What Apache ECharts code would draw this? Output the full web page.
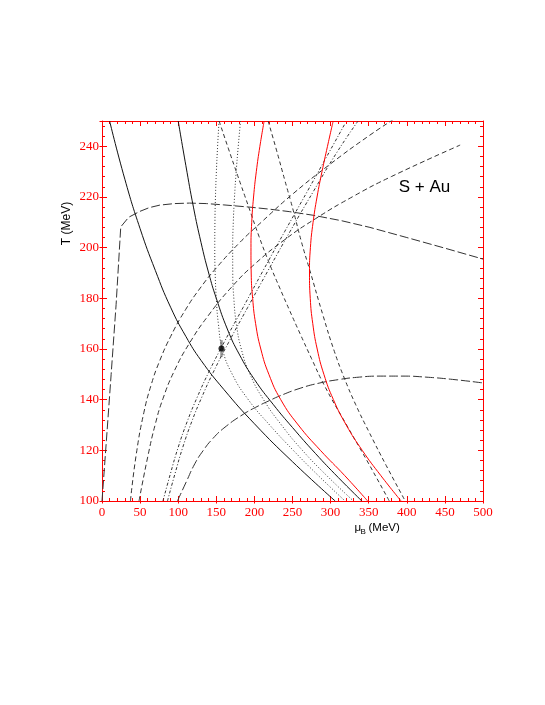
<!DOCTYPE html>
<html><head><meta charset="utf-8">
<script src="https://cdn.jsdelivr.net/npm/echarts@6/dist/echarts.min.js"></script>
<style>html,body{margin:0;padding:0;background:#fff}#c{width:545px;height:705px}</style>
</head><body><div id="c"></div>
<script>
// ---- data: [muB (MeV), T (MeV)] ----
const solidA = [[10,250],[30,227],[50,207.5],[70,191],[90,176.5],[110,165],[130,155.5],[160,144],[200,130.5],[250,115.5],[306,100]];
const solidB = [[100,250],[110,232.5],[120,216],[130,202],[140,190],[150,180],[165,167.5],[180,158],[200,148],[225,138],[250,129],[280,118.8],[310,109.3],[341,100]];
const red1 = [[212.8,250],[207.2,240],[202.5,230],[198.9,220],[196.5,210],[195.5,200],[195.8,190],[197.7,180],[201.6,170],[208.4,160],[219,150],[234.6,140],[257.6,130],[286.6,120],[318.6,110],[348.6,100]];
const red2 = [[303.4,250],[295.9,240],[288.7,230],[282.2,220],[277,210],[273.5,200],[272.3,190],[273.3,180],[276.6,170],[282.4,160],[291.2,150],[303.7,140],[320.5,130],[341.5,120],[366,110],[392.5,100]];
const dot1 = [[153.6,250],[151.7,240],[150.1,230],[148.9,220],[148.2,210],[148,200],[148.5,190],[150,180],[152.7,170],[158,160],[171,150],[192,140],[220,130],[251,120],[284,110],[319,100]];
const dot2 = [[181.8,250],[178.8,240],[176.1,230],[173.9,220],[172.3,210],[171.5,200],[171.6,190],[173,180],[176.3,170],[182.8,160],[194.3,150],[212,140],[235.5,130],[263,120],[295,110],[330,100]];
const dash1 = [[153.7,250],[166,239],[178,228.5],[192,216.5],[206,204.5],[220,193.5],[233.4,184],[246.5,175],[259.7,166.2],[275,156.2],[292,145.5],[320,130.5],[348,115.8],[377,100]];
const dash2 = [[218,250],[229,238.5],[240,226.5],[250.9,214.8],[262,202],[272.8,191],[290.3,173],[305,159],[318,148.5],[333,138],[350,127.5],[373,114],[398,100]];
const dashDot1 = [[80,100],[90,111],[100,121.2],[112,131.5],[125,141],[140,150.8],[160,162.5],[185,176.3],[211.5,191],[240,206.5],[270,222.5],[295,236],[319,249]];
const dashDot2 = [[85.9,100],[96,111],[106,121.2],[118,131.5],[131,141],[146,150.8],[166,162.5],[191,176.3],[218,191],[247,206.5],[278,222.5],[308,237.5],[336,250]];
const longDash1 = [[37.3,100],[45,118.5],[55,135],[65,146.3],[75,154.8],[90,164.9],[110,175.7],[130,184.5],[150,192],[180,201.8],[210,210.3],[250,221.1],[300,233.1],[350,244.1],[385,251.1]];
const longDash2 = [[48.6,100],[60,117.4],[70,130.4],[80,140.4],[95,151.4],[115,162.4],[140,173.4],[170,184.4],[200,193.4],[240,203.2],[280,211.4],[330,220.3],[380,228.1],[470,240.5]];
const domeUpper = [[0,100],[5.8,124],[12,150],[18.5,177.5],[24.6,208.2],[35,212],[49.5,214.3],[62,215.8],[75.9,216.8],[95,217.4],[115,217.6],[137,217.4],[159,216.9],[194,216],[220,215.2],[246.5,214.2],[277,212.8],[315,210.6],[351.6,208],[400,204],[450,199.8],[500,195.5]];
const domeLower = [[99,100],[110.5,107.5],[121.8,114.7],[133,120],[145,124.5],[160,128.8],[185.2,134.2],[205,137.5],[220.2,139.7],[233.4,141.5],[260,144.5],[286,146.6],[310,147.9],[334,148.8],[365,149.3],[395,149.3],[425,148.9],[460,148],[500,146.6]];
const point = [[156.8,160.2]];
const pointErr = [[156.8,156.9,163.5]];
const xTickLabels = [0,50,100,150,200,250,300,350,400,450,500];
const yTickLabels = [100,120,140,160,180,200,220,240];

const chart = echarts.init(document.getElementById('c'), null, {renderer:'canvas'});
const RED = '#ff0000';
function ln(data, color, type, smooth){
  return {type:'line', data:data, xAxisIndex:0, yAxisIndex:0, symbol:'none', showSymbol:false,
    smooth:smooth, silent:true, clip:true,
    lineStyle:{color:color, width:1, type:type}};
}
function vAxis(pos, interval, opts){
  return Object.assign({type:'value', min:100, max:250, interval:interval, position:pos,
    axisLine:{show:false}, splitLine:{show:false}, axisLabel:{show:false},
    axisTick:{show:true, inside:true, length:3, lineStyle:{color:RED, width:1}}}, opts||{});
}
function hAxis(pos, opts){
  return Object.assign({type:'value', min:0, max:500, interval:50, position:pos,
    axisLine:{show:false}, splitLine:{show:false}, axisLabel:{show:false},
    axisTick:{show:true, inside:true, length:5, lineStyle:{color:RED, width:1}}}, opts||{});
}
const labelFont = {color:RED, fontFamily:'Liberation Serif', fontSize:13};
const SM = 0.5;
const option = {
  animation:false,
  backgroundColor:'#fff',
  grid:{left:102, top:121, width:381, height:380, containLabel:false},
  xAxis:[
    hAxis('bottom',{axisLine:{show:true, lineStyle:{color:RED,width:1}},
      axisTick:{show:true, inside:false, length:2.5, lineStyle:{color:RED}},
      axisLabel:Object.assign({show:true, margin:5, formatter:function(v){return xTickLabels.indexOf(v)>=0? String(v):'';}}, labelFont)}),
    hAxis('bottom',{minorTick:{show:true, splitNumber:5, length:3, lineStyle:{color:RED}}}),
    hAxis('top',{axisLine:{show:true, lineStyle:{color:RED,width:1}},
      minorTick:{show:true, splitNumber:5, length:3, lineStyle:{color:RED}}})
  ],
  yAxis:[
    vAxis('left',20,{axisLine:{show:true, lineStyle:{color:RED,width:1}},
      axisTick:{show:true, inside:false, length:2.5, lineStyle:{color:RED}},
      axisLabel:Object.assign({show:true, margin:3, formatter:function(v){return yTickLabels.indexOf(v)>=0? String(v):'';}}, labelFont)}),
    vAxis('left',20,{axisTick:{show:true, inside:true, length:5, lineStyle:{color:RED}}}),
    vAxis('left',4),
    vAxis('right',20,{axisLine:{show:true, lineStyle:{color:RED,width:1}},
      axisTick:{show:true, inside:true, length:5, lineStyle:{color:RED}}}),
    vAxis('right',4)
  ],
  series:[
    ln(domeUpper,'#333',[9,3],false),
    ln(domeLower,'#333',[9,3],SM),
    ln(longDash1,'#333',[5,3],SM),
    ln(longDash2,'#333',[5,3],SM),
    ln(dashDot1,'#333',[3,2,1,2],SM),
    ln(dashDot2,'#333',[3,2,1,2],SM),
    ln(dash1,'#333',[4,3],SM),
    ln(dash2,'#333',[4,3],SM),
    ln(dot1,'#333',[1,2],SM),
    ln(dot2,'#333',[1,2],SM),
    ln(solidA,'#111','solid',SM),
    ln(solidB,'#111','solid',SM),
    ln(red1,RED,'solid',SM),
    ln(red2,RED,'solid',SM),
    {type:'custom', xAxisIndex:0, yAxisIndex:0, data:pointErr, silent:true,
      renderItem:function(params, api){
        const a = api.coord([api.value(0), api.value(1)]);
        const b = api.coord([api.value(0), api.value(2)]);
        return {type:'line', shape:{x1:a[0],y1:a[1],x2:b[0],y2:b[1]}, style:{stroke:'#999', lineWidth:2.5}};
      }},
    {type:'scatter', xAxisIndex:0, yAxisIndex:0, data:point, symbol:'circle', symbolSize:6,
      itemStyle:{color:'#000'}, silent:true, z:5}
  ],
  graphic:[
    {type:'text', x:424.5, y:187, style:{text:'S + Au', fill:'#000', fontSize:17, fontFamily:'Liberation Sans', align:'center', verticalAlign:'middle'}},
    {type:'text', x:67, y:223.5, rotation:Math.PI/2, style:{text:'T (MeV)', fill:'#000', fontSize:12, fontFamily:'Liberation Sans', align:'center', verticalAlign:'middle'}},
    {type:'text', x:354.5, y:528.3, style:{text:'μ', fill:'#000', fontSize:11.5, fontFamily:'Liberation Sans', align:'left', verticalAlign:'middle'}},
    {type:'text', x:360.5, y:531.3, style:{text:'B', fill:'#000', fontSize:8, fontFamily:'Liberation Sans', align:'left', verticalAlign:'middle'}},
    {type:'text', x:368.5, y:528.3, style:{text:'(MeV)', fill:'#000', fontSize:11.5, fontFamily:'Liberation Sans', align:'left', verticalAlign:'middle'}}
  ]
};
chart.setOption(option);
</script></body></html>
